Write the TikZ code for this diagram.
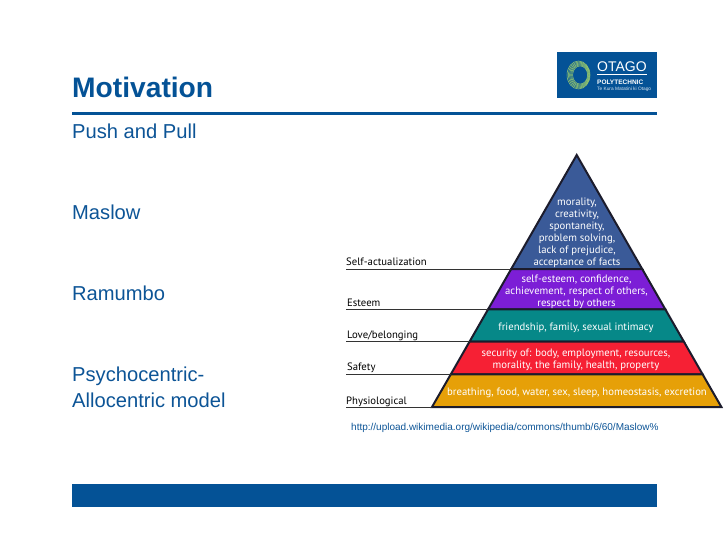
\documentclass[tikz,border=0pt]{standalone}
\usepackage{fontspec}
\setmainfont{Liberation Sans}
\newfontfamily\din{PT Sans}
\definecolor{otago}{RGB}{4,82,150}
\definecolor{bodyblue}{RGB}{12,84,150}
\definecolor{pyrblue}{RGB}{58,90,152}
\definecolor{pyrpurple}{RGB}{124,30,214}
\definecolor{pyrteal}{RGB}{6,136,136}
\definecolor{pyrred}{RGB}{246,32,52}
\definecolor{pyrgold}{RGB}{230,160,8}
\definecolor{pyrline}{RGB}{28,28,44}
\definecolor{ringgreen}{RGB}{150,200,110}
\tikzset{
  x=1pt,y=-1pt,
  bodytext/.style={anchor=base west,inner sep=0pt,text=bodyblue,font=\fontsize{20.15}{26}\selectfont},
  tier/.style={draw=pyrline,line width=2pt,line join=miter},
  tiertext/.style={anchor=center,inner sep=0pt,align=center,text=white,font=\din\fontsize{10.7}{11.9}\selectfont},
  levellabel/.style={anchor=base west,inner sep=0pt,text=black,font=\din\fontsize{10.7}{12}\selectfont},
  levelline/.style={draw=black!80,line width=1pt},
  ring/.style={draw=ringgreen,line width=0.55pt},
}
\begin{document}
\begin{tikzpicture}
\useasboundingbox (0,0) rectangle (728,546);
% title
\node[anchor=base west,inner sep=0pt,text=otago,font=\bfseries\fontsize{28.2}{32}\selectfont] (title) at (72,97) {Motivation};
\coordinate (ruleL) at (72,113);
\coordinate (ruleR) at (657,113);
\draw[otago,line width=3pt] (ruleL) -- (ruleR);
% logo
\fill[otago] (557,52) rectangle (657,98);
\foreach \r/\dx in {1/0,0.93/0.5,0.86/0.9,0.79/1.2,0.72/1.4,0.65/1.6}
  \draw[ring] (578.5+\dx,75) ellipse [x radius=11.5*\r,y radius=14*\r];
\node[anchor=base west,inner sep=0pt,text=white,font=\fontsize{14}{15}\selectfont] (logoA) at (597,71.5) {OTAGO};
\fill[white] (597,74.2) rectangle (647,74.8);
\node[anchor=base west,inner sep=0pt,text=white,font=\bfseries\fontsize{6.5}{7}\selectfont] (logoB) at (597,84) {POLYTECHNIC};
\node[anchor=base west,inner sep=0pt,text=white!85!otago,font=\fontsize{4.8}{5}\selectfont] (logoC) at (597,90) {Te Kura Matatini ki Otago};
% body
\node[bodytext] (t1) at (72,138) {Push and Pull};
\node[bodytext] (t2) at (72,219) {Maslow};
\node[bodytext] (t3) at (72,300) {Ramumbo};
\node[bodytext] (t4) at (72,381) {Psychocentric-};
\node[bodytext] (t5) at (72,407) {Allocentric model};
% pyramid tiers
\coordinate (apex) at (576.7,155);
\coordinate (l1) at (511.2,269); \coordinate (r1) at (642.2,269);
\coordinate (l2) at (488.1,309.3); \coordinate (r2) at (665.3,309.3);
\coordinate (l3) at (469.5,341.7); \coordinate (r3) at (683.9,341.7);
\coordinate (l4) at (450.8,374.3); \coordinate (r4) at (702.6,374.3);
\coordinate (l5) at (432,407); \coordinate (r5) at (721.4,407);
\filldraw[tier,fill=pyrblue] (apex) -- (r1) -- (l1) -- cycle;
\filldraw[tier,fill=pyrpurple] (l1) -- (r1) -- (r2) -- (l2) -- cycle;
\filldraw[tier,fill=pyrteal] (l2) -- (r2) -- (r3) -- (l3) -- cycle;
\filldraw[tier,fill=pyrred] (l3) -- (r3) -- (r4) -- (l4) -- cycle;
\filldraw[tier,fill=pyrgold] (l4) -- (r4) -- (r5) -- (l5) -- cycle;
% tier text
\node[tiertext] (p1) at (577,233) {morality,\\creativity,\\spontaneity,\\problem solving,\\lack of prejudice,\\acceptance of facts};
\node[tiertext] (p2) at (576.5,292) {self-esteem, confidence,\\achievement, respect of others,\\respect by others};
\node[tiertext] (p3) at (576,327.5) {friendship, family, sexual intimacy};
\node[tiertext] (p4) at (576,360) {security of: body, employment, resources,\\morality, the family, health, property};
\node[tiertext] (p5) at (577,393) {breathing, food, water, sex, sleep, homeostasis, excretion};
% level labels and lines
\node[levellabel] (s1) at (346,265) {Self-actualization};
\node[levellabel] (s2) at (347,306) {Esteem};
\node[levellabel] (s3) at (347,338) {Love/belonging};
\node[levellabel] (s4) at (347,370.5) {Safety};
\node[levellabel] (s5) at (346,404) {Physiological};
\coordinate (a1) at (346,269);
\coordinate (a2) at (346,309.3);
\coordinate (a3) at (346,341.7);
\coordinate (a4) at (346,374.3);
\coordinate (a5) at (346,407);
\draw[levelline] (a1) -- (l1);
\draw[levelline] (a2) -- (l2);
\draw[levelline] (a3) -- (l3);
\draw[levelline] (a4) -- (l4);
\draw[levelline] (a5) -- (l5);
% url
\node[anchor=base west,inner sep=0pt,text=bodyblue,font=\fontsize{10}{11}\selectfont] (url) at (351,430) {http://upload.wikimedia.org/wikipedia/commons/thumb/6/60/Maslow\%};
% footer bar
\fill[otago] (72,484) rectangle (657,507);
\end{tikzpicture}
\end{document}
